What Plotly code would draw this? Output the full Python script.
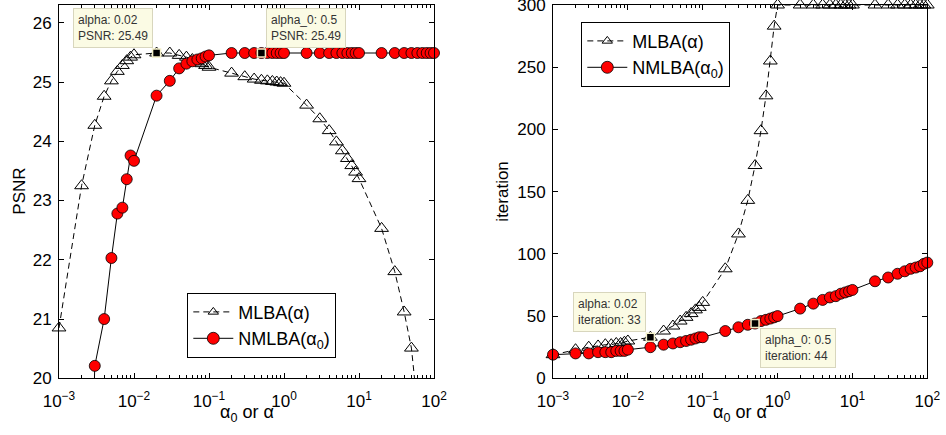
import math
import plotly.graph_objects as go

# ---------------- data ----------------
alpha = [0.001, 0.002, 0.003, 0.004, 0.005, 0.006, 0.007, 0.008, 0.009,
         0.01, 0.02, 0.03, 0.04, 0.05, 0.06, 0.07, 0.08, 0.09,
         0.1, 0.2, 0.3, 0.4, 0.5, 0.6, 0.7, 0.8, 0.9,
         1, 2, 3, 4, 5, 6, 7, 8, 9,
         10, 20, 30, 40, 50, 60, 70, 80, 90, 100]

psnr_mlba = [20.85, 23.25, 24.27, 24.76, 25.02, 25.18, 25.28, 25.36, 25.42,
             25.46, 25.49, 25.49, 25.45, 25.42, 25.38, 25.34, 25.31, 25.28,
             25.25, 25.15, 25.09, 25.05, 25.03, 25.02, 25.01, 25.00, 24.99,
             24.98, 24.61, 24.38, 24.18, 23.99, 23.84, 23.71, 23.59, 23.48,
             23.37, 22.53, 21.80, 21.12, 20.51, 19.67, 18.9, 18.2, 17.5, 16.8]

psnr_nmlba = [10.0, 12.0, 20.21, 21.00, 22.03, 22.78, 22.88, 23.36, 23.76,
              23.67, 24.77, 25.02, 25.23, 25.31, 25.35, 25.38, 25.40, 25.43,
              25.45, 25.49, 25.49, 25.49, 25.49, 25.49, 25.49, 25.49, 25.49,
              25.49, 25.49, 25.49, 25.49, 25.49, 25.49, 25.49, 25.49, 25.49,
              25.49, 25.49, 25.49, 25.49, 25.49, 25.49, 25.49, 25.49, 25.49, 25.49]

iter_mlba = [19, 23, 25, 26, 27, 27, 28, 28, 29,
             30, 33, 38, 42, 46, 49, 52, 55, 57,
             61, 88, 116, 143, 171, 199, 227, 255, 283,
             300, 300, 300, 300, 300, 300, 300, 300, 300,
             300, 300, 300, 300, 300, 300, 300, 300, 300, 300]

iter_nmlba = [19, 20, 20, 21, 21, 21, 22, 22, 22,
              23, 25, 27, 28, 29, 30, 31, 32, 33,
              33, 38, 41, 43, 44, 46, 47, 48, 49,
              50, 56, 60, 63, 65, 66, 68, 69, 70,
              71, 78, 81, 84, 86, 88, 89, 90, 92, 93]

x_exponents = [-3, -2, -1, 0, 1, 2]
psnr_ticks = [20, 21, 22, 23, 24, 25, 26]
iter_ticks = [0, 50, 100, 150, 200, 250, 300]

tip_alpha = 0.02      # data tip on MLBA
tip_alpha0 = 0.5      # data tip on NMLBA

psnr_range = [20, 26.3]
iter_range = [0, 300]

FONT = "Liberation Sans, Arial, Helvetica, sans-serif"
RED = "#ff0000"
TRI = dict(symbol="triangle-up-open", size=12, color="black", line=dict(width=1, color="black"))
CIR = dict(symbol="circle", size=11, color=RED, line=dict(width=0.8, color="black"))
DASH = dict(color="black", width=1, dash="6px,4px")
SOLID = dict(color="black", width=1)

fig = go.Figure()


def add_series(x, y, xa, ya, yr, line, marker):
    fig.add_trace(go.Scatter(x=x, y=y, mode="lines", line=line, xaxis=xa, yaxis=ya,
                             showlegend=False, hoverinfo="skip"))
    xv = [a for a, b in zip(x, y) if yr[0] <= b <= yr[1]]
    yv = [b for b in y if yr[0] <= b <= yr[1]]
    fig.add_trace(go.Scatter(x=xv, y=yv, mode="markers", marker=marker, xaxis=xa, yaxis=ya,
                             cliponaxis=False, showlegend=False))


add_series(alpha, psnr_mlba, "x", "y", psnr_range, DASH, TRI)
add_series(alpha, psnr_nmlba, "x", "y", psnr_range, SOLID, CIR)
add_series(alpha, iter_mlba, "x2", "y2", iter_range, DASH, TRI)
add_series(alpha, iter_nmlba, "x2", "y2", iter_range, SOLID, CIR)

# legend entries
for lg in ["legend", "legend2"]:
    xa = "x" if lg == "legend" else "x2"
    ya = "y" if lg == "legend" else "y2"
    fig.add_trace(go.Scatter(x=[None], y=[None], mode="lines+markers", name="MLBA(α)",
                             line=DASH, marker=dict(TRI, size=9), legend=lg, xaxis=xa, yaxis=ya))
    fig.add_trace(go.Scatter(x=[None], y=[None], mode="lines+markers", name="NMLBA(α<sub>0</sub>)",
                             line=SOLID, marker=dict(CIR, size=12), legend=lg, xaxis=xa, yaxis=ya))

# data tips
i1 = alpha.index(tip_alpha)
i2 = alpha.index(tip_alpha0)
SQ = dict(symbol="square", size=8, color="black", line=dict(width=1.5, color="#f3efc8"))
tips = [
    ("x", "y", alpha[i1], psnr_mlba[i1], f"alpha: {alpha[i1]:g}<br>PSNR: {psnr_mlba[i1]:.2f}", "right", "bottom", -4, 5),
    ("x", "y", alpha[i2], psnr_nmlba[i2], f"alpha_0: {alpha[i2]:g}<br>PSNR: {psnr_nmlba[i2]:.2f}", "left", "bottom", 5, 5),
    ("x2", "y2", alpha[i1], iter_mlba[i1], f"alpha: {alpha[i1]:g}<br>iteration: {iter_mlba[i1]}", "right", "bottom", -4, 5),
    ("x2", "y2", alpha[i2], iter_nmlba[i2], f"alpha_0: {alpha[i2]:g}<br>iteration: {iter_nmlba[i2]}", "left", "top", 5, -4),
]
annotations = []
for xa, ya, xv, yv, txt, xan, yan, xs, ys in tips:
    fig.add_trace(go.Scatter(x=[xv], y=[yv], mode="markers", marker=SQ, xaxis=xa, yaxis=ya,
                             cliponaxis=False, showlegend=False))
    annotations.append(dict(xref=xa, yref=ya, x=math.log10(xv), y=yv, text=txt,
                            showarrow=False, xanchor=xan, yanchor=yan, xshift=xs, yshift=ys,
                            align="left", bgcolor="#fbfbe4", bordercolor="#d8d6bd",
                            borderwidth=1, borderpad=4,
                            font=dict(family=FONT, size=12, color="#333333")))

W, H = 946, 435
def px(x):
    return x / W
def py(y):
    return 1 - y / H

xdom1 = [px(59), px(434)]
xdom2 = [px(553), px(927.3)]
ydom = [py(378.3), py(5)]

TF = dict(family=FONT, size=18, color="black")
annotations += [
    dict(xref="paper", yref="paper", x=(xdom1[0] + xdom1[1]) / 2, y=py(413), text="α<sub>0</sub> or α",
         showarrow=False, xanchor="center", yanchor="middle", font=TF),
    dict(xref="paper", yref="paper", x=(xdom2[0] + xdom2[1]) / 2, y=py(413), text="α<sub>0</sub> or α",
         showarrow=False, xanchor="center", yanchor="middle", font=TF),
    dict(xref="paper", yref="paper", x=px(20), y=(ydom[0] + ydom[1]) / 2, text="PSNR", textangle=-90,
         showarrow=False, xanchor="center", yanchor="middle", font=dict(TF, size=17)),
    dict(xref="paper", yref="paper", x=px(503), y=(ydom[0] + ydom[1]) / 2, text="iteration", textangle=-90,
         showarrow=False, xanchor="center", yanchor="middle", font=dict(TF, size=17)),
]

xtickvals = [10.0 ** e for e in x_exponents]
xticktext = ["10<sup>" + str(e).replace("-", "\u2212") + "</sup>" for e in x_exponents]

xax = dict(type="log", range=[-3, 2], tickvals=xtickvals, ticktext=xticktext, showgrid=False,
           zeroline=False, automargin=False, ticklabeloverflow="allow",
           showline=True, linecolor="black", linewidth=1, mirror="ticks", ticks="inside", ticklen=5,
           tickcolor="black", tickfont=dict(family=FONT, size=17, color="black"), ticklabelstandoff=7,
           minor=dict(ticks="inside", ticklen=3, tickcolor="black", showgrid=False, dtick="D1"))
yax = dict(showgrid=False, zeroline=False, automargin=False, ticklabeloverflow="allow",
           showline=True, linecolor="black", linewidth=1, mirror="ticks",
           ticks="inside", ticklen=5, tickcolor="black", tickfont=dict(family=FONT, size=17, color="black"),
           ticklabelstandoff=3)

legstyle = dict(bgcolor="white", bordercolor="black", borderwidth=1, xanchor="left", yanchor="top",
                font=dict(family=FONT, size=18, color="black"), itemwidth=40, tracegroupgap=0)

fig.update_layout(
    width=W, height=H, margin=dict(l=0, r=0, t=0, b=0, autoexpand=False),
    paper_bgcolor="white", plot_bgcolor="white",
    xaxis=dict(xax, domain=xdom1, anchor="y"),
    yaxis=dict(yax, domain=ydom, anchor="x", range=psnr_range, tickvals=psnr_ticks),
    xaxis2=dict(xax, domain=xdom2, anchor="y2"),
    yaxis2=dict(yax, domain=ydom, anchor="x2", range=iter_range, tickvals=iter_ticks),
    legend=dict(legstyle, x=px(187.3), y=py(292.7)),
    legend2=dict(legstyle, x=px(581.3), y=py(21.7)),
    annotations=annotations,
    showlegend=True,
)

fig.write_html("out.html")
